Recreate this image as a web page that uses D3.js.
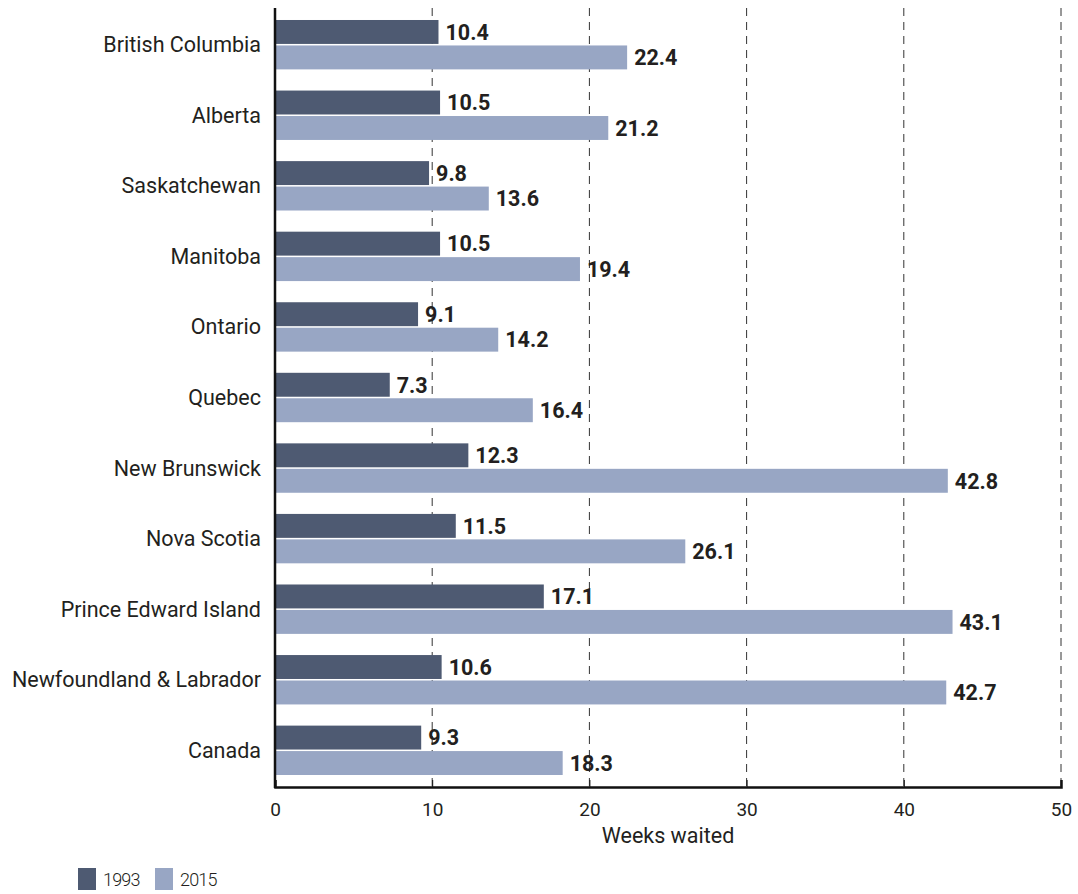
<!DOCTYPE html>
<html>
<head>
<meta charset="utf-8">
<script src="https://cdn.jsdelivr.net/npm/d3@7"></script>
<style>
  body { margin: 0; background: #fff; }
  text { font-family: Roboto, "Open Sans", sans-serif; }
</style>
</head>
<body>
<svg id="chart" width="1078" height="894"></svg>
<script>
// data
var provinces = ["British Columbia", "Alberta", "Saskatchewan", "Manitoba", "Ontario", "Quebec",
  "New Brunswick", "Nova Scotia", "Prince Edward Island", "Newfoundland & Labrador", "Canada"];
var wait1993 = [10.4, 10.5, 9.8, 10.5, 9.1, 7.3, 12.3, 11.5, 17.1, 10.6, 9.3];
var wait2015 = [22.4, 21.2, 13.6, 19.4, 14.2, 16.4, 42.8, 26.1, 43.1, 42.7, 18.3];
var years = ["1993", "2015"];
var xTicks = [0, 10, 20, 30, 40, 50];

var colors = { "1993": "#4e5a72", "2015": "#98a6c4" };

var svg = d3.select("#chart"),
    margin = { top: 8, right: 16, bottom: 107, left: 275 },
    width = +svg.attr("width") - margin.left - margin.right,
    height = +svg.attr("height") - margin.top - margin.bottom;

var g = svg.append("g").attr("transform", "translate(" + margin.left + "," + margin.top + ")");

var x = d3.scaleLinear().domain([0, 50]).range([0, 786]);
var y = d3.scaleBand().domain(provinces).range([0, height]).paddingInner(0.3).paddingOuter(0.17);
var sub = d3.scaleBand().domain(years).range([0, y.bandwidth()]).paddingInner(0.06);

// dashed grid
g.selectAll(".grid")
  .data(xTicks.slice(1))
  .enter().append("line")
  .attr("class", "grid")
  .attr("x1", d => x(d)).attr("x2", d => x(d))
  .attr("y1", 0).attr("y2", height)
  .attr("stroke", "#333")
  .attr("stroke-width", 1)
  .attr("stroke-dasharray", "8,6");

var rows = provinces.map(function(p, i) {
  return { name: p, values: [{ year: "1993", v: wait1993[i] }, { year: "2015", v: wait2015[i] }] };
});

var grp = g.selectAll(".row")
  .data(rows)
  .enter().append("g")
  .attr("class", "row")
  .attr("transform", d => "translate(0," + y(d.name) + ")");

grp.selectAll("rect")
  .data(d => d.values)
  .enter().append("rect")
  .attr("x", 0)
  .attr("y", d => sub(d.year))
  .attr("width", d => x(d.v))
  .attr("height", sub.bandwidth())
  .attr("fill", d => colors[d.year]);

grp.selectAll(".val")
  .data(d => d.values)
  .enter().append("text")
  .attr("class", "val")
  .attr("x", d => x(d.v) + 7)
  .attr("y", d => sub(d.year) + sub.bandwidth() / 2)
  .attr("dy", "0.36em")
  .attr("font-size", 21.5)
  .attr("font-weight", "bold")
  .attr("fill", "#231f20")
  .text(d => d.v.toFixed(1));

// category labels
g.selectAll(".cat")
  .data(provinces)
  .enter().append("text")
  .attr("class", "cat")
  .attr("x", -14)
  .attr("y", d => y(d) + y.bandwidth() / 2)
  .attr("dy", "0.35em")
  .attr("text-anchor", "end")
  .attr("font-size", 21.5)
  .attr("fill", "#231f20")
  .text(d => d);

// x axis
var xAxis = g.append("g")
  .attr("transform", "translate(0," + height + ")")
  .call(d3.axisBottom(x).tickValues(xTicks).tickSize(-7).tickPadding(16));
xAxis.select(".domain").attr("stroke", "#111").attr("stroke-width", 2.5);
xAxis.selectAll(".tick line").attr("stroke", "#111");
xAxis.selectAll("text").attr("font-size", 19).attr("fill", "#231f20")
  .style("font-family", "Roboto, sans-serif");

// y axis line
g.append("line")
  .attr("x1", 0).attr("x2", 0)
  .attr("y1", 0).attr("y2", height + 1)
  .attr("stroke", "#111").attr("stroke-width", 2.5);

g.append("text")
  .attr("x", x(25))
  .attr("y", height + 56)
  .attr("text-anchor", "middle")
  .attr("font-size", 21.5)
  .attr("fill", "#231f20")
  .text("Weeks waited");

// legend
var legend = svg.append("g").attr("transform", "translate(78,868)");
var item = legend.selectAll(".leg")
  .data(years)
  .enter().append("g")
  .attr("transform", (d, i) => "translate(" + (i * 77) + ",0)");
item.append("rect").attr("width", 18).attr("height", 22).attr("fill", d => colors[d]);
item.append("text").attr("x", 25).attr("y", 11).attr("dy", "0.38em")
  .attr("font-size", 18).attr("font-weight", 300).attr("letter-spacing", -0.8)
  .attr("fill", "#231f20").text(d => d);
</script>
</body>
</html>
